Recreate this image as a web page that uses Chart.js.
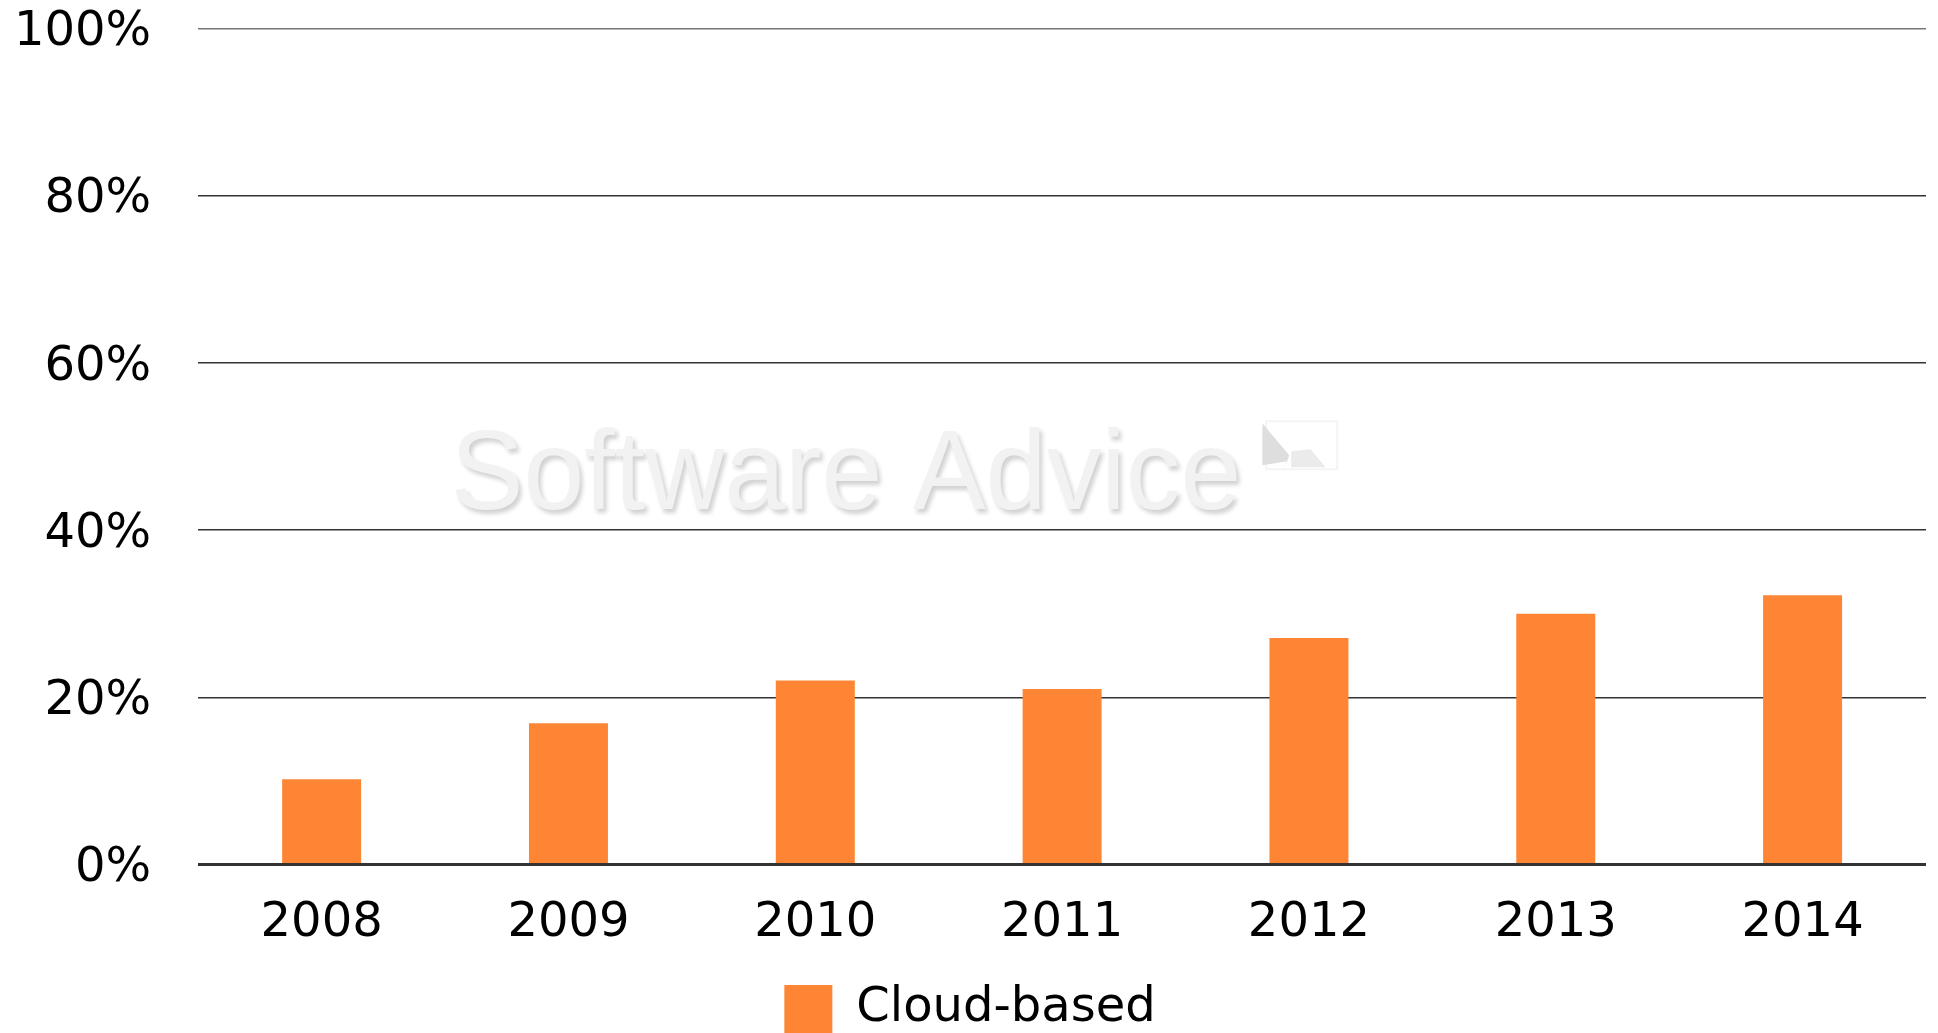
<!DOCTYPE html>
<html>
<head>
<meta charset="utf-8">
<script src="https://cdn.jsdelivr.net/npm/chart.js@4.4.1/dist/chart.umd.min.js"></script>
<style>
  html, body { margin: 0; padding: 0; background: #fff; }
  #wrap { width: 1938px; height: 1033px; }
</style>
</head>
<body>
<div id="wrap"><canvas id="myChart"></canvas></div>
<script>
// chart data
const years = ["2008", "2009", "2010", "2011", "2012", "2013", "2014"];
const cloudBased = [10.2, 16.9, 22, 21, 27.1, 30, 32.2];
const yTicks = [0, 20, 40, 60, 80, 100];

const font = "'DejaVu Sans', Verdana, sans-serif";

// faint "Software Advice" watermark behind the bars
const watermark = {
  id: "watermark",
  beforeDatasetsDraw(chart) {
    const ctx = chart.ctx;
    const area = chart.chartArea;
    const x = area.left + (area.right - area.left) * 0.146;
    const y = area.top + (area.bottom - area.top) * 0.575;
    ctx.save();
    ctx.translate(x, y);
    ctx.scale(0.96, 1);
    ctx.font = "114px 'Liberation Sans', Arial, sans-serif";
    ctx.textBaseline = "alphabetic";
    ctx.textAlign = "left";
    ctx.shadowColor = "rgba(0,0,0,0.18)";
    ctx.shadowOffsetX = 3;
    ctx.shadowOffsetY = 4;
    ctx.shadowBlur = 4;
    ctx.fillStyle = "#f2f2f2";
    ctx.fillText("Software Advice", 0, 0);
    const w = ctx.measureText("Software Advice").width;
    // little logo mark
    ctx.shadowColor = "transparent";
    ctx.translate(w + 22, -88);
    ctx.strokeStyle = "#f4f4f4";
    ctx.lineWidth = 2;
    ctx.strokeRect(4, 0, 74, 48);
    ctx.fillStyle = "#dedede";
    ctx.beginPath();
    ctx.moveTo(0, 2);
    ctx.lineTo(28, 34);
    ctx.lineTo(18, 60);
    ctx.lineTo(26, 40);
    ctx.lineTo(0, 44);
    ctx.closePath();
    ctx.fill();
    ctx.fillStyle = "#ebebeb";
    ctx.beginPath();
    ctx.moveTo(30, 30);
    ctx.lineTo(50, 28);
    ctx.lineTo(66, 46);
    ctx.lineTo(30, 46);
    ctx.closePath();
    ctx.fill();
    ctx.restore();
  }
};

const ctx = document.getElementById("myChart").getContext("2d");
new Chart(ctx, {
  type: "bar",
  data: {
    labels: years,
    datasets: [{
      label: "Cloud-based",
      data: cloudBased,
      backgroundColor: "#fe8533",
      borderWidth: 0,
      categoryPercentage: 1,
      barPercentage: 0.32
    }]
  },
  options: {
    responsive: true,
    maintainAspectRatio: false,
    animation: false,
    layout: { padding: { left: 14, right: 12, top: 0, bottom: -10 } },
    scales: {
      x: {
        grid: { display: false },
        border: { display: false },
        ticks: { color: "#000", font: { family: font, size: 48 }, padding: 22, maxRotation: 0 }
      },
      y: {
        min: 0,
        max: 100,
        afterBuildTicks(axis) { axis.ticks = yTicks.map(v => ({ value: v })); },
        grid: {
          color: c => (c.tick && c.tick.value === 100 ? "#777" : "#333"),
          lineWidth: c => (c.tick && c.tick.value === 0 ? 3 : 1.5),
          drawTicks: true,
          tickLength: 47,
          tickColor: "rgba(0,0,0,0)"
        },
        border: { display: false },
        ticks: {
          color: "#000",
          font: { family: font, size: 48 },
          padding: 0,
          labelOffset: 4,
          callback: v => v + "%"
        }
      }
    },
    plugins: {
      legend: {
        position: "bottom",
        labels: {
          color: "#000",
          font: { family: font, size: 48 },
          boxWidth: 48,
          boxHeight: 48,
          padding: 11
        }
      },
      tooltip: { enabled: false }
    }
  },
  plugins: [watermark]
});
</script>
</body>
</html>
